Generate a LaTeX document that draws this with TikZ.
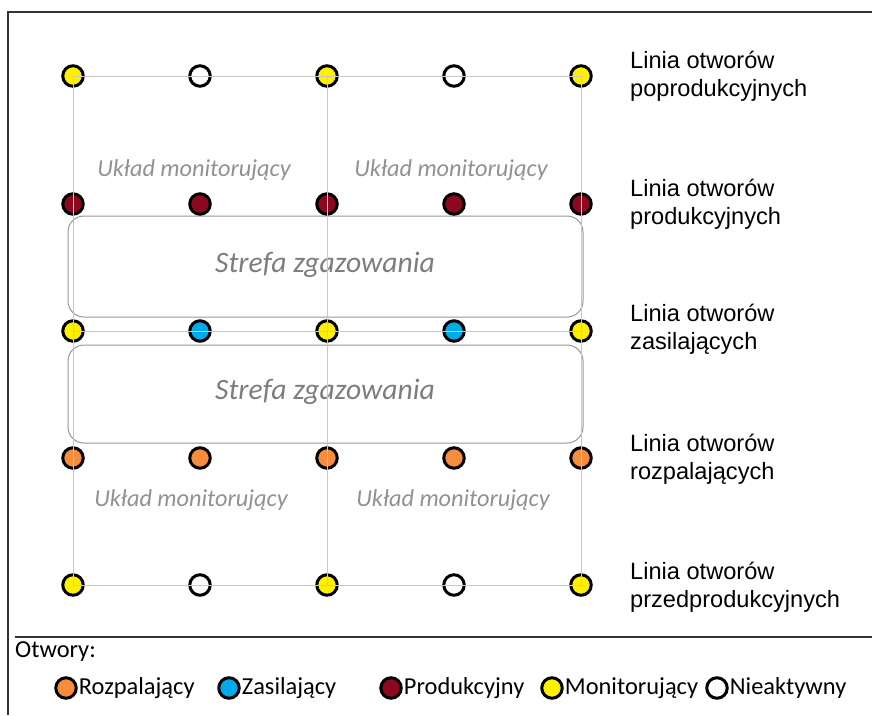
\documentclass[tikz,border=0pt]{standalone}
\usepackage{fontspec}
\setmainfont{Carlito}
\newfontfamily\arialf{Liberation Sans}
\usetikzlibrary{positioning}
\definecolor{yel}{RGB}{255,240,0}
\definecolor{blu}{RGB}{0,170,235}
\definecolor{dred}{RGB}{140,8,30}
\definecolor{ora}{RGB}{246,140,60}
\definecolor{gridc}{RGB}{200,200,200}
\definecolor{zonec}{RGB}{150,150,150}
\definecolor{txtg}{RGB}{125,125,125}
\definecolor{txtm}{RGB}{145,145,145}
\definecolor{framec}{RGB}{50,50,50}
\tikzset{
  hole/.style={circle, draw=black, line width=3pt, minimum size=20.5pt, inner sep=0pt},
  mon/.style={hole, fill=yel},
  zas/.style={hole, fill=blu},
  pro/.style={hole, fill=dred},
  roz/.style={hole, fill=ora},
  nie/.style={hole, fill=white},
  gridline/.style={draw=gridc, line width=1pt},
  zone/.style={draw=zonec, line width=1pt, rounded corners=16pt},
  zonetxt/.style={text=txtg, font=\fontsize{29.6}{34}\selectfont\itshape},
  montxt/.style={text=txtm, font=\fontsize{24.3}{28}\selectfont\itshape},
  linelbl/.style={anchor=west, align=left, inner sep=0pt, font=\arialf\fontsize{23.6}{28}\selectfont},
  legtxt/.style={anchor=west, inner sep=0pt, font=\fontsize{24.4}{28}\selectfont},
  frame/.style={draw=framec, line width=1.6pt}
}
\begin{document}
\begin{tikzpicture}[x=1pt, y=-1pt]
\useasboundingbox (0,0) rectangle (872,715);
% frame
\coordinate (ftr) at (872,12);
\coordinate (ftl) at (8,12);
\coordinate (fbl) at (8,715);
\coordinate (sl) at (15,637);
\coordinate (sr) at (872,637);
\draw[frame] (ftr) -- (ftl) -- (fbl);
\draw[frame] (sl) -- (sr);
% zones
\draw[zone] (68,216) rectangle (583,317);
\draw[zone] (68,345) rectangle (583,443);
\node[zonetxt] (z1) at (325,265) {Strefa zgazowania};
\node[zonetxt] (z2) at (325,392) {Strefa zgazowania};
\node[montxt] (m1) at (194,170) {Układ monitorujący};
\node[montxt] (m2) at (451,170) {Układ monitorujący};
\node[montxt] (m3) at (191,500) {Układ monitorujący};
\node[montxt] (m4) at (453,500) {Układ monitorujący};
% holes
\node[mon] (a1) at (73,76) {};
\node[nie] (a2) at (200,76) {};
\node[mon] (a3) at (327,76) {};
\node[nie] (a4) at (454,76) {};
\node[mon] (a5) at (581,76) {};
\node[pro] (b1) at (73,204) {};
\node[pro] (b2) at (200,204) {};
\node[pro] (b3) at (327,204) {};
\node[pro] (b4) at (454,204) {};
\node[pro] (b5) at (581,204) {};
\node[mon] (c1) at (73,331) {};
\node[zas] (c2) at (200,331) {};
\node[mon] (c3) at (327,331) {};
\node[zas] (c4) at (454,331) {};
\node[mon] (c5) at (581,331) {};
\node[roz] (d1) at (73,458) {};
\node[roz] (d2) at (200,458) {};
\node[roz] (d3) at (327,458) {};
\node[roz] (d4) at (454,458) {};
\node[roz] (d5) at (581,458) {};
\node[mon] (e1) at (73,585) {};
\node[nie] (e2) at (200,585) {};
\node[mon] (e3) at (327,585) {};
\node[nie] (e4) at (454,585) {};
\node[mon] (e5) at (581,585) {};
% grid lines
\draw[gridline] (a1.center) -- (a5.center) -- (e5.center) -- (e1.center) -- cycle;
\draw[gridline] (a3.center) -- (e3.center);
\draw[gridline] (c1.center) -- (c5.center);
% line labels
\node[linelbl] (l1) at (630,76) {Linia otworów\\poprodukcyjnych};
\node[linelbl] (l2) at (630,204) {Linia otworów\\produkcyjnych};
\node[linelbl] (l3) at (630,329) {Linia otworów\\zasilających};
\node[linelbl] (l4) at (630,459) {Linia otworów\\rozpalających};
\node[linelbl] (l5) at (630,587) {Linia otworów\\przedprodukcyjnych};
% legend
\node[legtxt] (otw) at (15,652) {Otwory:};
\node[roz] (k1) at (66,688) {};
\node[legtxt, right=1pt of k1] (t1) {Rozpalający};
\node[zas] (k2) at (229,688) {};
\node[legtxt, right=1pt of k2] (t2) {Zasilający};
\node[pro] (k3) at (391,688) {};
\node[legtxt, right=1pt of k3] (t3) {Produkcyjny};
\node[mon] (k4) at (552,688) {};
\node[legtxt, right=1pt of k4] (t4) {Monitorujący};
\node[nie] (k5) at (717,688) {};
\node[legtxt, right=1pt of k5] (t5) {Nieaktywny};
\end{tikzpicture}
\end{document}
